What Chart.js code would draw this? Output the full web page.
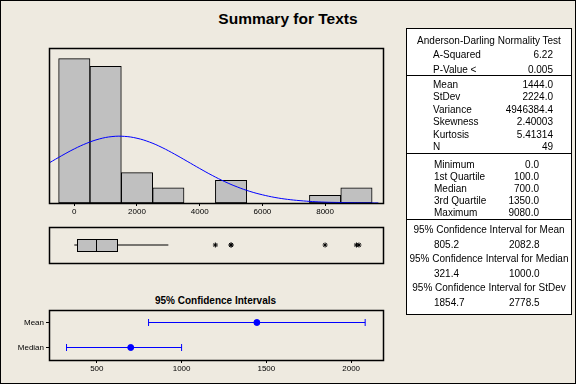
<!DOCTYPE html>
<html>
<head>
<meta charset="utf-8">
<script src="https://cdn.jsdelivr.net/npm/chart.js@4.4.1/dist/chart.umd.min.js"></script>
<style>
  body { margin: 0; }
  #page {
    position: relative; width: 576px; height: 384px; box-sizing: border-box;
    border: 1px solid #000; background: #EEEAE0; overflow: hidden;
    font-family: "Liberation Sans", Arial, sans-serif; color: #000;
  }
  canvas { position: absolute; }
  .txt { position: absolute; line-height: 12px; white-space: nowrap; }
  #title { position: absolute; left: 0; width: 574px; top: 9px; text-align: center; font-size: 15.5px; font-weight: bold; }
  #ciTitle { position: absolute; left: 47px; width: 335px; top: 294px; text-align: center; font-size: 10px; font-weight: bold; }
  #table { position: absolute; left: 405px; top: 27px; width: 166px; height: 287px; box-sizing: border-box; border: 1px solid #000; background: #fff; }
  .rule { position: absolute; left: 405px; width: 166px; height: 1px; background: #000; }
  .t { font-size: 10px; }
</style>
</head>
<body>
<div id="page">
  <div id="title">Summary for Texts</div>
  <canvas id="hist" width="350" height="180" style="left:40px;top:40px"></canvas>
  <canvas id="box" width="350" height="50" style="left:40px;top:220px"></canvas>
  <div id="ciTitle">95% Confidence Intervals</div>
  <canvas id="ci" width="400" height="85" style="left:0px;top:295px"></canvas>
  <div id="table"></div>
</div>
<script>
// histogram bins (bin centres, width 1000) and counts
const binCenters = [0, 1000, 2000, 3000, 5000, 8000, 9000];
const binCounts = [19, 18, 4, 2, 3, 1, 2];
const histTicks = [0, 2000, 4000, 6000, 8000];

// fitted normal curve
const curveX = [-800, -400, 0, 400, 800, 1200, 1600, 2000, 2400, 2800, 3200, 3600, 4000, 4400,
  4800, 5200, 5600, 6000, 6400, 6800, 7200, 7600, 8000, 8400, 8800, 9200, 9700];
const curveY = [5.28, 6.23, 7.12, 7.87, 8.43, 8.74, 8.77, 8.52, 8.02, 7.30, 6.43, 5.49, 4.54, 3.63,
  2.81, 2.11, 1.53, 1.08, 0.73, 0.48, 0.31, 0.19, 0.11, 0.07, 0.04, 0.02, 0.01];

// boxplot
const boxQ = [100, 700, 1350];        // Q1, median, Q3
const whiskers = [0, 3000];
const outliers = [4500, 5000, 5000, 8000, 9000, 9080];

// confidence intervals
const ciLabels = ['Mean', 'Median'];
const ciCenter = [1444, 700];
const ciLow = [805.2, 321.4];
const ciHigh = [2082.8, 1000.0];
const ciTicks = [500, 1000, 1500, 2000];

// summary table
const adHeader = 'Anderson-Darling Normality Test';
const adRows = [['A-Squared', '6.22'], ['P-Value <', '0.005']];
const momentRows = [['Mean', '1444.0'], ['StDev', '2224.0'], ['Variance', '4946384.4'],
  ['Skewness', '2.40003'], ['Kurtosis', '5.41314'], ['N', '49']];
const quantRows = [['Minimum', '0.0'], ['1st Quartile', '100.0'], ['Median', '700.0'],
  ['3rd Quartile', '1350.0'], ['Maximum', '9080.0']];
const ciRows = [['95% Confidence Interval for Mean', '805.2', '2082.8'],
  ['95% Confidence Interval for Median', '321.4', '1000.0'],
  ['95% Confidence Interval for StDev', '1854.7', '2778.5']];

const tickFont = { family: 'Liberation Sans', size: 8 };
const BLUE = '#0000FF';

const frame = {
  id: 'frame',
  afterDraw(chart) {
    const a = chart.chartArea, c = chart.ctx;
    c.save();
    c.strokeStyle = '#000';
    c.lineWidth = 1.5;
    c.strokeRect(Math.round(a.left) + 0.5, Math.round(a.top) + 0.5,
      Math.round(a.right - a.left), Math.round(a.bottom - a.top));
    c.restore();
  }
};

function fixTicks(list) {
  return (scale) => { scale.ticks = list.map((v) => ({ value: v })); };
}
const plain = (v) => String(v);

const xHist = { min: -807, max: 9847 };

// histogram
new Chart(document.getElementById('hist'), {
  type: 'bar',
  data: {
    datasets: [
      {
        type: 'line',
        data: curveX.map((x, i) => ({ x, y: curveY[i] })),
        borderColor: BLUE,
        borderWidth: 1,
        pointRadius: 0,
        tension: 0.4,
        fill: false,
        order: 0,
      },
      {
        type: 'bar',
        data: binCenters.map((x, i) => ({ x, y: binCounts[i] })),
        backgroundColor: '#C0C0C0',
        borderColor: '#000',
        borderWidth: 1,
        borderSkipped: false,
        barPercentage: 1,
        categoryPercentage: 1,
        order: 1,
      },
    ],
  },
  options: {
    responsive: false,
    animation: false,
    events: [],
    layout: { padding: { left: 8, right: 8, top: 7, bottom: 4 } },
    plugins: { legend: { display: false }, tooltip: { enabled: false } },
    scales: {
      x: {
        type: 'linear', min: xHist.min, max: xHist.max, offset: false,
        afterBuildTicks: fixTicks(histTicks),
        afterFit: (s) => { s.height = 14; },
        grid: { display: true, drawOnChartArea: false, drawTicks: true, tickLength: 3, color: '#000', offset: false },
        border: { display: false },
        ticks: { font: tickFont, color: '#000', padding: 1, maxRotation: 0, callback: plain },
      },
      y: { display: false, min: 0, max: 20.4 },
    },
  },
  plugins: [frame],
});

// boxplot
const boxDraw = {
  id: 'boxDraw',
  afterDatasetsDraw(chart) {
    const x = chart.scales.x, y = chart.scales.y, c = chart.ctx;
    const x1 = Math.round(x.getPixelForValue(boxQ[0])) + 0.5;
    const xm = Math.round(x.getPixelForValue(boxQ[1])) + 0.5;
    const x3 = Math.round(x.getPixelForValue(boxQ[2])) + 0.5;
    const y0 = Math.round(y.getPixelForValue(0.34)) + 0.5;
    const y1 = Math.round(y.getPixelForValue(-0.34)) + 0.5;
    c.save();
    c.fillStyle = '#C0C0C0';
    c.fillRect(x1, y0, x3 - x1, y1 - y0);
    c.strokeStyle = '#000';
    c.lineWidth = 1;
    c.strokeRect(x1, y0, x3 - x1, y1 - y0);
    c.beginPath();
    c.moveTo(xm, y0);
    c.lineTo(xm, y1);
    c.stroke();
    c.restore();
  }
};

new Chart(document.getElementById('box'), {
  type: 'scatter',
  data: {
    datasets: [
      { type: 'line', data: [{ x: whiskers[0], y: 0 }, { x: boxQ[0], y: 0 }], borderColor: '#000', borderWidth: 1, pointRadius: 0 },
      { type: 'line', data: [{ x: boxQ[2], y: 0 }, { x: whiskers[1], y: 0 }], borderColor: '#000', borderWidth: 1, pointRadius: 0 },
      {
        data: outliers.map((v) => ({ x: v, y: 0 })),
        pointStyle: 'star', pointRadius: 2.5, borderColor: '#000', borderWidth: 1, backgroundColor: '#000',
      },
    ],
  },
  options: {
    responsive: false,
    animation: false,
    events: [],
    layout: { padding: { left: 8, right: 8, top: 6, bottom: 8 } },
    plugins: { legend: { display: false }, tooltip: { enabled: false } },
    scales: {
      x: { type: 'linear', display: false, min: xHist.min, max: xHist.max },
      y: { type: 'linear', display: false, min: -1, max: 1 },
    },
  },
  plugins: [boxDraw, frame],
});

// confidence intervals
const ciSets = ciLabels.map((lab, i) => ({
  type: 'line',
  data: [{ x: ciLow[i], y: lab }, { x: ciHigh[i], y: lab }],
  borderColor: BLUE,
  borderWidth: 1,
  pointStyle: 'line',
  rotation: 90,
  pointRadius: 3.5,
  pointBorderColor: BLUE,
  pointBorderWidth: 1,
}));
ciSets.push({
  data: ciLabels.map((lab, i) => ({ x: ciCenter[i], y: lab })),
  pointRadius: 3,
  backgroundColor: BLUE,
  borderColor: BLUE,
});

new Chart(document.getElementById('ci'), {
  type: 'scatter',
  data: { datasets: ciSets },
  options: {
    responsive: false,
    animation: false,
    events: [],
    layout: { padding: { left: 0, right: 18, top: 14, bottom: 7 } },
    plugins: { legend: { display: false }, tooltip: { enabled: false } },
    scales: {
      x: {
        type: 'linear', min: 218, max: 2188,
        afterBuildTicks: fixTicks(ciTicks),
        afterFit: (s) => { s.height = 14; },
        grid: { display: true, drawOnChartArea: false, drawTicks: true, tickLength: 3, color: '#000' },
        border: { display: false },
        ticks: { font: tickFont, color: '#000', padding: 1, maxRotation: 0, callback: plain },
      },
      y: {
        type: 'category', labels: ciLabels, offset: true,
        afterFit: (s) => { s.width = 48; },
        grid: { display: true, drawOnChartArea: false, drawTicks: true, tickLength: 3, color: '#000', offset: false },
        border: { display: false },
        ticks: { font: tickFont, color: '#000', padding: 2 },
      },
    },
  },
  plugins: [frame],
});

// summary table
const page = document.getElementById('page');
function txt(s, x, y, align) {
  const d = document.createElement('div');
  d.className = 'txt t';
  d.textContent = s;
  d.style.top = (y - 6 - 1) + 'px';
  if (align === 'right') { d.style.right = (575 - x) + 'px'; }
  else if (align === 'center') { d.style.left = (x - 100) + 'px'; d.style.width = '200px'; d.style.textAlign = 'center'; }
  else { d.style.left = (x - 1) + 'px'; }
  page.appendChild(d);
}
function rule(y) {
  const d = document.createElement('div');
  d.className = 'rule';
  d.style.top = (y - 1) + 'px';
  page.appendChild(d);
}

txt(adHeader, 488, 40.5, 'center');
adRows.forEach((r, i) => { txt(r[0], 433, 54.5 + i * 15.5); txt(r[1], 553, 54.5 + i * 15.5, 'right'); });
rule(75);
momentRows.forEach((r, i) => { txt(r[0], 433, 84.5 + i * 12.5); txt(r[1], 553, 84.5 + i * 12.5, 'right'); });
rule(153);
quantRows.forEach((r, i) => { txt(r[0], 434, 165 + i * 12); txt(r[1], 539, 165 + i * 12, 'right'); });
rule(219);
ciRows.forEach((r, i) => {
  const y = 229.5 + i * 29;
  txt(r[0], 488, y, 'center');
  txt(r[1], 434, y + 15);
  txt(r[2], 509, y + 15);
});
</script>
</body>
</html>
